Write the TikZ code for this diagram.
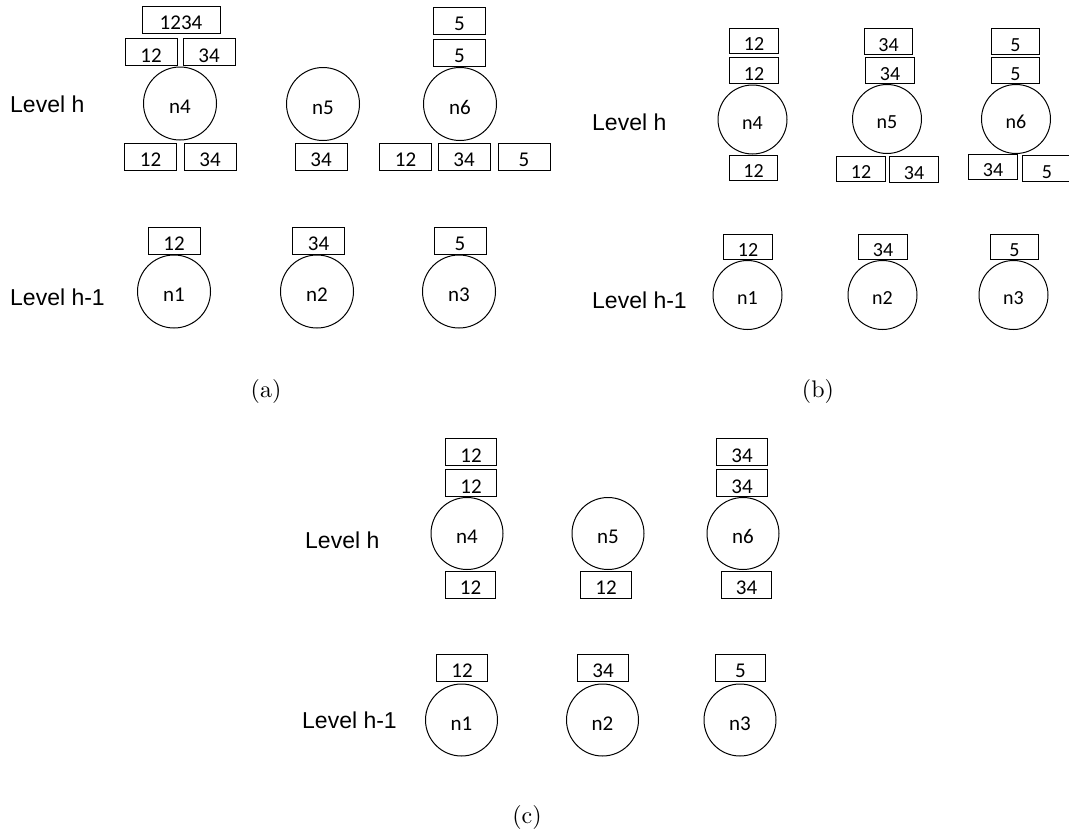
\documentclass[tikz,border=0pt]{standalone}
\usepackage{fontspec}
\newfontfamily\boxfont{Carlito}
\newfontfamily\lvlfont{Liberation Sans}
\newfontfamily\capfont{lmroman10-regular.otf}
\begin{document}
\begin{tikzpicture}[x=1pt,y=-1pt,
  bx/.style={draw, line width=1pt, inner sep=0pt, minimum width=52pt, minimum height=27pt, text height=20pt, text depth=0pt, font=\boxfont\fontsize{21}{21}\selectfont},
  bbx/.style={bx, minimum width=48.5pt, minimum height=25.5pt, text height=19pt, font=\boxfont\fontsize{20}{20}\selectfont},
  cbx/.style={bx, minimum width=50.5pt, minimum height=27pt},
  nd/.style={draw, circle, line width=1pt, inner sep=0pt, minimum size=73pt, text height=20pt, text depth=0pt, font=\boxfont\fontsize{21}{21}\selectfont},
  bnd/.style={nd, minimum size=69pt, text height=19pt, font=\boxfont\fontsize{20}{20}\selectfont},
  cnd/.style={nd, minimum size=72pt},
  lvl/.style={anchor=west, inner sep=0pt, font=\lvlfont\fontsize{23}{23}\selectfont},
  subcap/.style={inner sep=0pt, font=\capfont\fontsize{24}{28}\selectfont}]
\useasboundingbox (0,0) rectangle (1069,833);
% ---------- (a) ----------
\node[lvl] (aLh) at (10,104) {Level h};
\node[lvl] (aLh1) at (10,297) {Level h-1};
\node[nd] (a4) at (180,103.5) {n4};
\node[bx, minimum width=78pt] (a4t0) at (181,19.5) {1234};
\node[bx] (a4t1) at (151,52) {12};
\node[bx] (a4t2) at (209,52) {34};
\node[bx] (a4b1) at (150.5,156.5) {12};
\node[bx] (a4b2) at (210,156.5) {34};
\node[nd] (a5) at (323,104) {n5};
\node[bx] (a5b1) at (321,156.5) {34};
\node[nd] (a6) at (460,104) {n6};
\node[bx] (a6t0) at (459.5,20.5) {5};
\node[bx] (a6t1) at (459.5,52.5) {5};
\node[bx] (a6b1) at (405.5,156.5) {12};
\node[bx] (a6b2) at (464,156.5) {34};
\node[bx] (a6b3) at (524,156.5) {5};
\node[nd] (a1) at (174,291.5) {n1};
\node[bx] (a1t) at (174,240.5) {12};
\node[nd] (a2) at (317,291.5) {n2};
\node[bx] (a2t) at (318.5,240.5) {34};
\node[nd] (a3) at (459,291.5) {n3};
\node[bx] (a3t) at (460,240.5) {5};
\node[subcap] (acap) at (266,391) {(a)};
% ---------- (b) ----------
\node[lvl] (bLh) at (592,122) {Level h};
\node[lvl] (bLh1) at (592,300) {Level h-1};
\node[bnd] (b4) at (752.5,119.5) {n4};
\node[bbx] (b4t0) at (754,41) {12};
\node[bbx] (b4t1) at (754,70.5) {12};
\node[bbx] (b4b1) at (753.5,168) {12};
\node[bnd] (b5) at (887,119) {n5};
\node[bbx] (b5t0) at (888.5,41.5) {34};
\node[bbx] (b5t1) at (890,70.5) {34};
\node[bbx] (b5b1) at (861,169) {12};
\node[bbx] (b5b2) at (914,169.5) {34};
\node[bnd] (b6) at (1016,119) {n6};
\node[bbx] (b6t0) at (1015.5,41.5) {5};
\node[bbx] (b6t1) at (1015.5,70.5) {5};
\node[bbx] (b6b1) at (993,167) {34};
\node[bbx] (b6b2) at (1047,168.5) {5};
\node[bnd] (b1) at (747.5,295) {n1};
\node[bbx] (b1t) at (748,247) {12};
\node[bnd] (b2) at (882.5,295) {n2};
\node[bbx] (b2t) at (883,247) {34};
\node[bnd] (b3) at (1013.5,295) {n3};
\node[bbx] (b3t) at (1014.5,247) {5};
\node[subcap] (bcap) at (818,391) {(b)};
% ---------- (c) ----------
\node[lvl] (cLh) at (305,540) {Level h};
\node[lvl] (cLh1) at (302,720) {Level h-1};
\node[cnd] (c4) at (467,533.5) {n4};
\node[cbx] (c4t0) at (471,452) {12};
\node[cbx] (c4t1) at (471,483) {12};
\node[cbx] (c4b1) at (470.5,584.5) {12};
\node[cnd] (c5) at (608,533.5) {n5};
\node[cbx] (c5b1) at (606,584.5) {12};
\node[cnd] (c6) at (743,533.5) {n6};
\node[cbx] (c6t0) at (742,452) {34};
\node[cbx] (c6t1) at (742,483) {34};
\node[cbx] (c6b1) at (746.5,584.5) {34};
\node[cnd] (c1) at (461.5,720) {n1};
\node[cbx] (c1t) at (462,667.5) {12};
\node[cnd] (c2) at (602.5,720) {n2};
\node[cbx] (c2t) at (603,667.5) {34};
\node[cnd] (c3) at (740,720) {n3};
\node[cbx] (c3t) at (740.5,667.5) {5};
\node[subcap] (ccap) at (527,817) {(c)};
\end{tikzpicture}
\end{document}
